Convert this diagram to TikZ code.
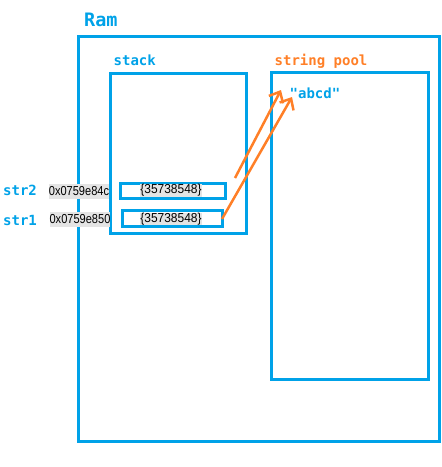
\documentclass[tikz,border=0pt]{standalone}
\usepackage{fontspec}
\setmainfont{Liberation Sans}
\newfontfamily\labfont{DejaVu Sans Mono}
\newfontfamily\addrfont[FakeStretch=0.85]{Liberation Sans}
\newfontfamily\valfont[FakeStretch=0.92]{Liberation Sans}
\usetikzlibrary{arrows.meta}
\definecolor{ramblue}{HTML}{00A2E8}
\definecolor{poolorange}{HTML}{FF7F27}
\definecolor{addrgray}{HTML}{E4E4E4}
\tikzset{
  boxline/.style={draw=ramblue, line width=3pt, inner sep=0pt},
  biglab/.style={text=ramblue, font=\labfont\bfseries\fontsize{18.5}{20}\selectfont, inner sep=0pt, anchor=base west},
  lab/.style={text=ramblue, font=\labfont\bfseries\fontsize{14}{16}\selectfont, inner sep=0pt, anchor=base west},
  addr/.style={fill=addrgray, inner sep=0pt, minimum width=60pt, minimum height=15pt, font=\addrfont\fontsize{13}{14}\selectfont},
  valtext/.style={fill=addrgray, inner sep=0pt, minimum width=62pt, minimum height=12pt, font=\valfont\fontsize{13}{14}\selectfont},
  ptr/.style={draw=poolorange, line width=2.5pt, -{Straight Barb[length=9pt,width=16pt,line width=2.5pt]}}
}
\begin{document}
\begin{tikzpicture}[x=1pt,y=-1pt]
\useasboundingbox (0,0) rectangle (442,467);
% boxes
\node[boxline, minimum width=361.5pt, minimum height=405pt] (ram) at ({(78+439.5)/2},{(36+441)/2}) {};
\node[boxline, minimum width=136pt, minimum height=159.5pt] (stack) at ({(110.7+246.7)/2},{(73.7+233.2)/2}) {};
\node[boxline, minimum width=157pt, minimum height=306.5pt] (pool) at ({(271.5+428.5)/2},{(72.5+379)/2}) {};
% titles
\node[biglab] (ramlab) at (84,26) {Ram};
\node[lab] (stacklab) at (113.5,65.7) {stack};
\node[lab, text=poolorange] (poollab) at (274.5,65.5) {string pool};
\node[lab] (abcd) at (289.5,98) {"abcd"};
% variables
\node[lab] (str2) at (3,195) {str2};
\node[lab] (str1) at (3,225) {str1};
\node[addr] (a2) at (79,191.5) {0x0759e84c};
\node[addr] (a1) at (80,219.5) {0x0759e850};
\node[boxline, minimum width=105pt, minimum height=15.5pt] (v2) at (173,190.75) {};
\node[boxline, minimum width=100.5pt, minimum height=15.5pt] (v1) at (172.25,218.25) {};
\node[valtext] (v2t) at (171,190.5) {\{35738548\}};
\node[valtext] (v1t) at (171,219) {\{35738548\}};
% pointers
\coordinate (s1) at (222,219);
\coordinate (s2) at (235,178);
\coordinate (t1) at (292,97);
\coordinate (t2) at (281,90);
\draw[ptr] (s1) -- (t1);
\draw[ptr] (s2) -- (t2);
\end{tikzpicture}
\end{document}
